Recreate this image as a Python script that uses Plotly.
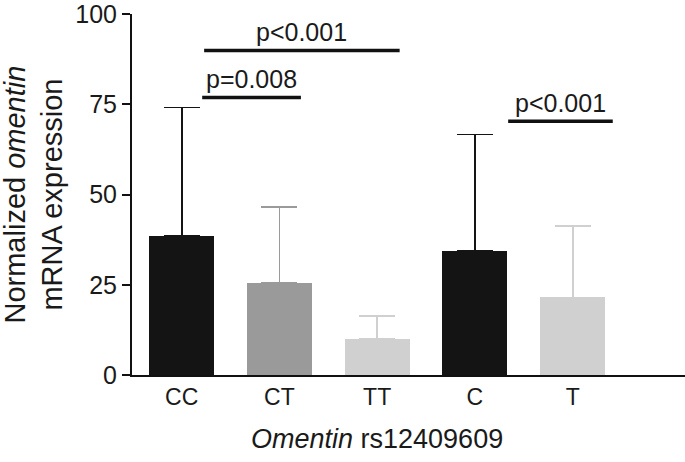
import plotly.graph_objects as go

categories = ["CC", "CT", "TT", "C", "T"]
means = [38.6, 25.4, 9.9, 34.3, 21.5]
sd_upper = [35.5, 21.2, 6.4, 32.3, 19.7]   # error bar length above mean
bar_colors = ["#141414", "#9a9a9a", "#d0d0d0", "#141414", "#d0d0d0"]

# significance brackets: (x start, x end) in category units, height, label
sig_x0 = [0.21, 0.23, 3.34]
sig_x1 = [1.22, 2.23, 4.41]
sig_y = [76.9, 89.9, 70.3]
sig_labels = ["p=0.008", "p<0.001", "p<0.001"]

y_ticks = [0, 25, 50, 75, 100]

FONT = "Liberation Sans, Arial, sans-serif"

fig = go.Figure()
xs = list(range(len(categories)))
for i, cat in enumerate(categories):
    fig.add_trace(go.Bar(
        x=[xs[i]], y=[means[i]], width=0.665,
        marker=dict(color=bar_colors[i], line=dict(width=0)),
        error_y=dict(type="data", symmetric=False, array=[sd_upper[i]], arrayminus=[0],
                     color=bar_colors[i], thickness=1.7, width=18),
        showlegend=False, name=cat,
    ))

for x0, x1, yv, lab in zip(sig_x0, sig_x1, sig_y, sig_labels):
    fig.add_trace(go.Scatter(x=[x0, x1], y=[yv, yv], mode="lines",
                             line=dict(color="#111111", width=3.5),
                             showlegend=False, hoverinfo="skip"))
    fig.add_annotation(x=(x0 + x1) / 2, y=yv + 5.2, text=lab, showarrow=False,
                       xanchor="center", yanchor="middle",
                       font=dict(family=FONT, size=25, color="#1a1a1a"))

fig.add_annotation(x=2, xref="x", y=-0.178, yref="paper",
                   text="<i>Omentin</i> rs12409609", showarrow=False,
                   xanchor="center", yanchor="middle",
                   font=dict(family=FONT, size=27, color="#1a1a1a"))
fig.add_annotation(x=-0.179, xref="paper", y=0.5, yref="paper",
                   text="Normalized <i>omentin</i><br>mRNA expression",
                   textangle=-90, showarrow=False,
                   xanchor="center", yanchor="middle",
                   font=dict(family=FONT, size=29, color="#1a1a1a"))

fig.update_layout(
    width=685, height=462,
    margin=dict(l=132, r=0, t=10, b=87),
    paper_bgcolor="white", plot_bgcolor="white",
    bargap=0, barmode="overlay",
    font=dict(family=FONT, size=25, color="#1a1a1a"),
)
fig.update_xaxes(range=[-0.508, 5.149], tickmode="array", tickvals=xs, ticktext=categories,
                 showline=True, linecolor="#111111", linewidth=2, ticks="",
                 showgrid=False, zeroline=False, tickfont=dict(size=23))
fig.update_yaxes(range=[0, 100.02], tickmode="array", tickvals=y_ticks,
                 showline=True, linecolor="#111111", linewidth=2,
                 ticks="outside", ticklen=8, tickwidth=2, tickcolor="#111111",
                 ticklabeloverflow="allow",
                 showgrid=False, zeroline=False, tickfont=dict(size=25))

fig.write_html("out.html", config={"displayModeBar": False},
               post_script="document.body.style.margin='0';")
